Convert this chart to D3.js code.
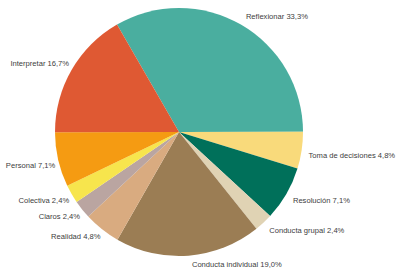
<!DOCTYPE html>
<html>
<head>
<meta charset="utf-8">
<script src="https://cdn.jsdelivr.net/npm/d3@7"></script>
<style>
  body { margin: 0; background: #fff; }
  text { font-family: "Liberation Sans", Arial, sans-serif; font-size: 7.6px; fill: #404040; }
</style>
</head>
<body>
<div id="chart"></div>
<script>
var w = 402;
var h = 275;

// slices, clockwise from Reflexionar
var categories = ["Reflexionar", "Toma de decisiones", "Resolución", "Conducta grupal",
    "Conducta individual", "Realidad", "Claros", "Colectiva", "Personal", "Interpretar"];
var values = [33.3, 4.8, 7.1, 2.4, 19.0, 4.8, 2.4, 2.4, 7.1, 16.7];
var labels = ["33,3%", "4,8%", "7,1%", "2,4%", "19,0%", "4,8%", "2,4%", "2,4%", "7,1%", "16,7%"];
var colors = ["#4aae9f", "#f9da7b", "#00705a", "#e0d3b4", "#9b7d54",
    "#d9ab80", "#baa5a1", "#f7e54d", "#f59b12", "#df5933"];

var cx = 179, cy = 132, r = 124;

var dataset = categories.map(function(c, i) {
    return {name: c, value: values[i], label: labels[i], color: colors[i]};
});

var pie = d3.pie()
    .value(function(d) { return d.value; })
    .sort(null)
    .startAngle(-Math.PI / 6)
    .endAngle(2 * Math.PI - Math.PI / 6);

var arc = d3.arc().innerRadius(0).outerRadius(r);

var svg = d3.select("#chart")
    .append("svg")
    .attr("width", w)
    .attr("height", h);

var g = svg.append("g")
    .attr("transform", "translate(" + cx + "," + cy + ")");

var arcs = pie(dataset);

g.selectAll("path")
    .data(arcs)
    .enter()
    .append("path")
    .attr("d", arc)
    .attr("fill", function(d) { return d.data.color; });

// labels sit just outside the rim, corner towards the slice
g.selectAll("text")
    .data(arcs)
    .enter()
    .append("text")
    .attr("x", function(d) {
        var a = (d.startAngle + d.endAngle) / 2;
        var s = Math.sin(a);
        return (r + 4) * s + (s >= 0 ? 3 : 1);
    })
    .attr("y", function(d) {
        var a = (d.startAngle + d.endAngle) / 2;
        var y = -(r + 4) * Math.cos(a);
        return Math.cos(a) > 0 ? y - 2 : y + 7;
    })
    .attr("text-anchor", function(d) {
        var a = (d.startAngle + d.endAngle) / 2;
        return Math.sin(a) >= 0 ? "start" : "end";
    })
    .text(function(d) { return d.data.name + " " + d.data.label; });
</script>
</body>
</html>
